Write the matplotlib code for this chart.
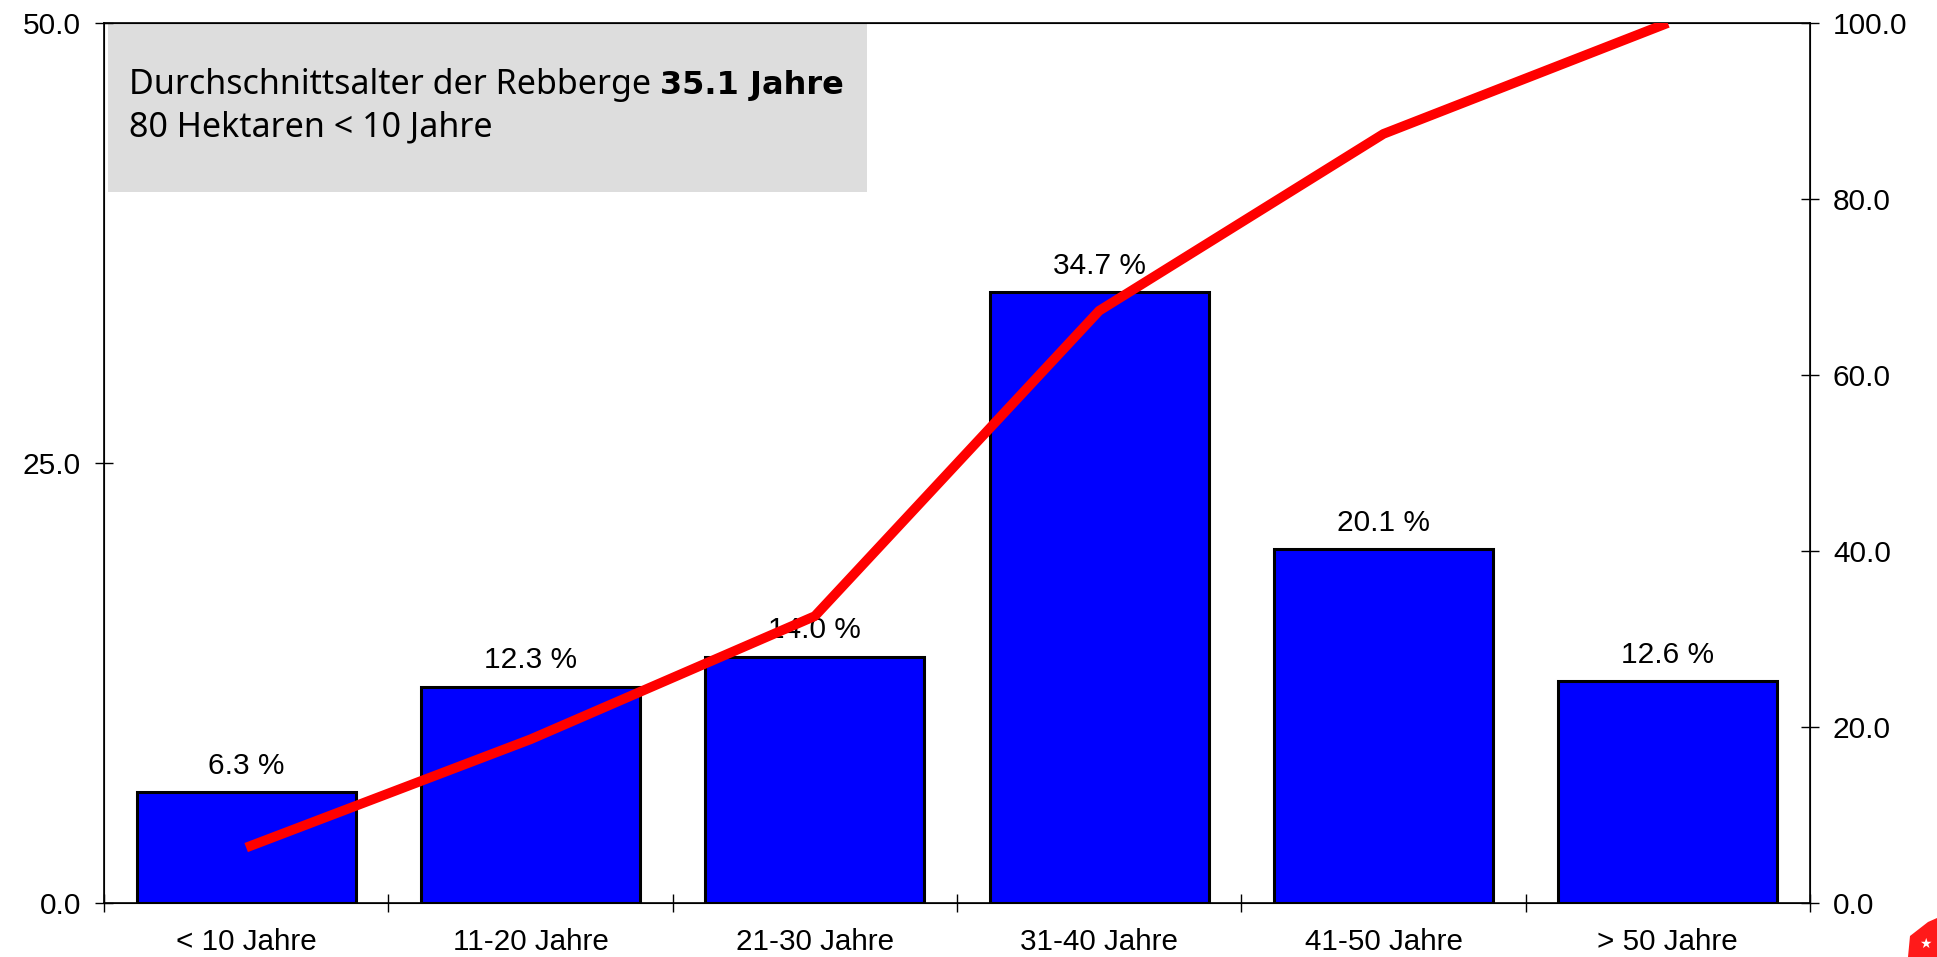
import matplotlib
matplotlib.use("Agg")
import matplotlib.pyplot as plt
import numpy as np
from matplotlib.patches import Polygon

# Altersklassen der Rebberge
kategorien = ["< 10 Jahre", "11-20 Jahre", "21-30 Jahre", "31-40 Jahre", "41-50 Jahre", "> 50 Jahre"]
anteil = [6.3, 12.3, 14.0, 34.7, 20.1, 12.6]
kumuliert = [6.3, 18.6, 32.6, 67.3, 87.4, 100.0]
links_ticks = [0.0, 25.0, 50.0]
rechts_ticks = [0.0, 20.0, 40.0, 60.0, 80.0, 100.0]

plt.rcParams['font.family'] = ['Liberation Sans', 'DejaVu Sans']

fig = plt.figure(figsize=(19.37, 9.57), dpi=100)
ax = fig.add_axes([104/1937, 1 - 903/957, (1810-104)/1937, (903-23)/957])
x = np.arange(len(kategorien))

ax.bar(x, anteil, width=0.77, color='#0000FF', edgecolor='black', linewidth=2.2, zorder=2)
for xi, v in zip(x, anteil):
    ax.annotate(f"{v:.1f} %", (xi, v), xytext=(0, 9), textcoords='offset points',
                ha='center', va='bottom', fontsize=21.5, zorder=5)

ax.set_xlim(-0.5, len(kategorien) - 0.5)
ax.set_ylim(0, 50)
ax.set_yticks(links_ticks)
ax.set_yticklabels([f"{t:.1f}" for t in links_ticks])
ax.set_xticks(np.arange(len(kategorien) + 1) - 0.5, minor=False)
ax.set_xticklabels([])
ax.set_xticks(x, minor=True)
ax.set_xticklabels(kategorien, minor=True)
ax.tick_params(axis='x', which='minor', length=0, labelsize=21.3, pad=18)
ax.tick_params(axis='x', which='major', direction='inout', length=13, width=1)
ax.tick_params(axis='y', direction='inout', length=13, width=1, labelsize=21.5, pad=10)
for s in ax.spines.values():
    s.set_linewidth(1.2)

ax2 = ax.twinx()
ax2.plot(x, kumuliert, color='#FF0000', linewidth=7, solid_capstyle='butt', zorder=3)
ax2.set_ylim(0, 100)
ax2.set_yticks(rechts_ticks)
ax2.set_yticklabels([f"{t:.1f}" for t in rechts_ticks])
ax2.tick_params(axis='y', direction='inout', length=13, width=1, labelsize=21.5, pad=10)

# Infobox oben links
box_font = 'Noto Sans'
ax.add_patch(plt.Rectangle((-0.487, 40.4), 2.672, 9.6, facecolor='#DDDDDD', edgecolor='none', zorder=1))
t1 = ax.text(-0.413, 46.45, "Durchschnittsalter der Rebberge ", fontsize=24.5, family=box_font,
             va='center', ha='left', zorder=4)
fig.canvas.draw()
bb = t1.get_window_extent()
xe = ax.transData.inverted().transform((bb.x1, bb.y0))[0]
ax.text(xe, 46.45, "35.1 Jahre", fontsize=23, family='DejaVu Sans', fontweight='bold',
        va='center', ha='left', zorder=4)
ax.text(-0.413, 44.05, "80 Hektaren < 10 Jahre", fontsize=24.5, family=box_font,
        va='center', ha='left', zorder=4)

# kleines rotes Logo in der Ecke
fig.patches.append(Polygon([(1908/1937, 0), (1910/1937, 1-936/957), (1928/1937, 1-922/957),
                            (1937/1937, 1-918/957), (1937/1937, 0)],
                           closed=True, transform=fig.transFigure, facecolor='#FF1A1A', edgecolor='none'))
fig.text(1925/1937, 1-944/957, "★", color='white', fontsize=10, family='DejaVu Sans',
         ha='center', va='center')

fig.savefig('out.png', dpi=100)
